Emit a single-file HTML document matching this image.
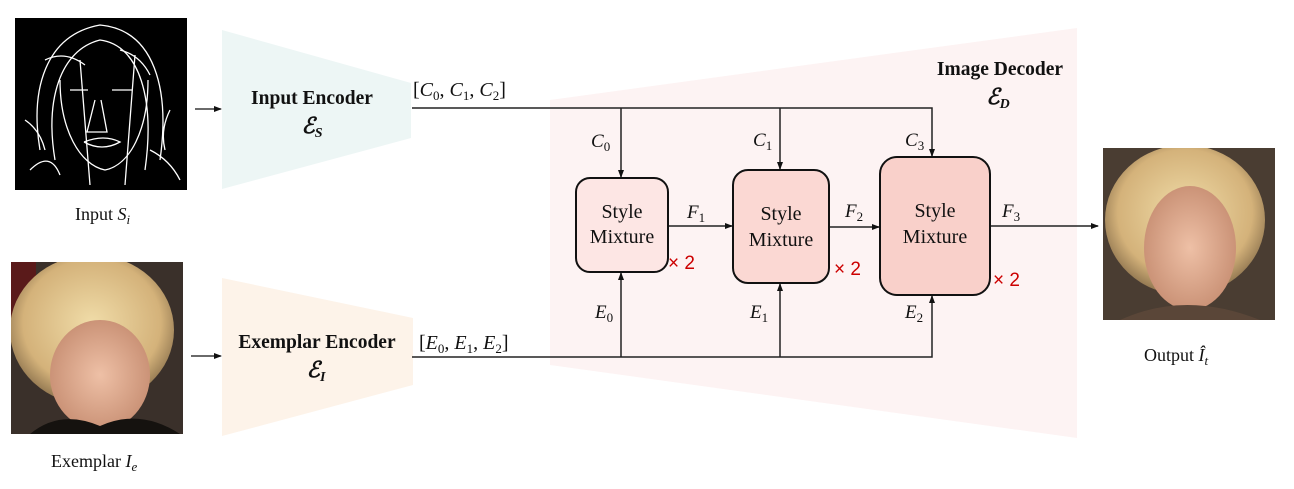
<!DOCTYPE html>
<html><head><meta charset="utf-8"><style>
html,body{margin:0;padding:0;background:#fff;width:1294px;height:489px;overflow:hidden}
text{font-family:"Liberation Serif",serif;fill:#111}
.it{font-style:italic}
</style></head><body>
<svg width="1294" height="489" viewBox="0 0 1294 489" xmlns="http://www.w3.org/2000/svg">
<defs>
<marker id="ah" markerWidth="8" markerHeight="8" refX="7" refY="4" orient="auto" markerUnits="userSpaceOnUse"><path d="M0,1 L8,4 L0,7 z" fill="#111"/></marker>
<radialGradient id="hair" cx="0.5" cy="0.45" r="0.6"><stop offset="0" stop-color="#f0dca8"/><stop offset="0.7" stop-color="#d4b27a"/><stop offset="1" stop-color="#7a6242"/></radialGradient>
<radialGradient id="skin" cx="0.5" cy="0.5" r="0.6"><stop offset="0" stop-color="#eec0a6"/><stop offset="1" stop-color="#c48a6e"/></radialGradient>
<clipPath id="c1"><rect x="11" y="262" width="172" height="172"/></clipPath>
<clipPath id="c2"><rect x="1103" y="148" width="172" height="172"/></clipPath>
</defs>
<polygon points="550,100 1077,28 1077,438 550,365" fill="#fdf3f3"/>
<polygon points="222,30 411,83 411,138 222,189" fill="#edf6f5"/>
<polygon points="222,278 413,318 413,385 222,436" fill="#fdf3e9"/>

<g>
<rect x="15" y="18" width="172" height="172" fill="#000"/>
<g fill="none" stroke="#fff" stroke-width="1.3">
<path d="M40,150 C30,90 45,35 100,25 C155,30 170,90 160,160"/>
<path d="M55,160 C45,100 60,50 100,40 C140,45 155,100 145,170"/>
<path d="M60,80 C60,130 80,165 105,170 C130,165 148,130 148,80"/>
<path d="M70,90 l18,0 M112,90 l20,0 M95,100 l-8,32 l20,0 l-6,-32 M84,142 q20,-8 36,0 q-18,10 -36,0"/>
<path d="M80,60 L90,185 M135,55 L125,185 M30,170 q20,-20 30,5 M150,150 q20,10 30,30"/>
<path d="M25,120 q15,10 20,30 M170,110 q-10,20 -5,40 M45,60 q20,-10 40,5 M120,50 q20,5 30,25"/>
</g></g>
<g clip-path="url(#c1)">
<rect x="11" y="262" width="172" height="172" fill="#3a302a"/>
<rect x="11" y="262" width="25" height="70" fill="#5a1a1a"/>
<ellipse cx="92" cy="330" rx="82" ry="75" fill="url(#hair)"/>
<ellipse cx="100" cy="375" rx="50" ry="55" fill="url(#skin)"/>
<path d="M30,434 q30,-25 70,-8 q40,-18 80,8 z" fill="#15120f"/>
</g>
<g clip-path="url(#c2)">
<rect x="1103" y="148" width="172" height="172" fill="#4a3d32"/>
<ellipse cx="1185" cy="220" rx="80" ry="75" fill="url(#hair)"/>
<ellipse cx="1190" cy="248" rx="46" ry="62" fill="url(#skin)"/>
<path d="M1120,320 q65,-30 140,0 z" fill="#5a4638"/>
</g>

<text x="75" y="220" font-size="18">Input <tspan class="it">S</tspan><tspan class="it" font-size="13" dy="4">i</tspan></text>
<text x="51" y="467" font-size="18">Exemplar <tspan class="it">I</tspan><tspan class="it" font-size="13" dy="4">e</tspan></text>
<text x="1144" y="361" font-size="18">Output <tspan class="it">Î</tspan><tspan class="it" font-size="13" dy="4">t</tspan></text>

<line x1="195" y1="109" x2="221" y2="109" stroke="#111" stroke-width="1.3" marker-end="url(#ah)"/>
<line x1="191" y1="356" x2="221" y2="356" stroke="#111" stroke-width="1.3" marker-end="url(#ah)"/>

<text x="312" y="104" font-size="19.5" font-weight="bold" text-anchor="middle">Input Encoder</text>
<text x="312" y="133" font-size="22" class="it" font-weight="bold" text-anchor="middle">ℰ<tspan font-size="14" dy="4">S</tspan></text>
<text x="317" y="348" font-size="19.5" font-weight="bold" text-anchor="middle">Exemplar Encoder</text>
<text x="316" y="377" font-size="22" class="it" font-weight="bold" text-anchor="middle">ℰ<tspan font-size="14" dy="4">I</tspan></text>
<text x="1000" y="75" font-size="19.5" font-weight="bold" text-anchor="middle">Image Decoder</text>
<text x="998" y="104" font-size="22" class="it" font-weight="bold" text-anchor="middle">ℰ<tspan font-size="14" dy="4">D</tspan></text>

<text x="413" y="96" font-size="20">[<tspan class="it">C</tspan><tspan font-size="13" dy="4">0</tspan><tspan dy="-4">, </tspan><tspan class="it">C</tspan><tspan font-size="13" dy="4">1</tspan><tspan dy="-4">, </tspan><tspan class="it">C</tspan><tspan font-size="13" dy="4">2</tspan><tspan dy="-4">]</tspan></text>
<text x="419" y="349" font-size="20">[<tspan class="it">E</tspan><tspan font-size="13" dy="4">0</tspan><tspan dy="-4">, </tspan><tspan class="it">E</tspan><tspan font-size="13" dy="4">1</tspan><tspan dy="-4">, </tspan><tspan class="it">E</tspan><tspan font-size="13" dy="4">2</tspan><tspan dy="-4">]</tspan></text>

<g stroke="#222" stroke-width="1.5" fill="none">
<polyline points="412,108 932,108 932,156" marker-end="url(#ah)"/>
<line x1="621" y1="108" x2="621" y2="177" marker-end="url(#ah)"/>
<line x1="780" y1="108" x2="780" y2="169" marker-end="url(#ah)"/>
<polyline points="412,357 932,357 932,296" marker-end="url(#ah)"/>
<line x1="621" y1="357" x2="621" y2="273" marker-end="url(#ah)"/>
<line x1="780" y1="357" x2="780" y2="284" marker-end="url(#ah)"/>
<line x1="668" y1="226" x2="732" y2="226" marker-end="url(#ah)"/>
<line x1="829" y1="227" x2="879" y2="227" marker-end="url(#ah)"/>
<line x1="990" y1="226" x2="1098" y2="226" marker-end="url(#ah)"/>
</g>

<rect x="576" y="178" width="92" height="94" rx="14" fill="#fde6e4" stroke="#111" stroke-width="2"/>
<rect x="733" y="170" width="96" height="113" rx="15" fill="#fbd8d3" stroke="#111" stroke-width="2"/>
<rect x="880" y="157" width="110" height="138" rx="17" fill="#f9d0ca" stroke="#111" stroke-width="2"/>
<g font-size="20" text-anchor="middle">
<text x="622" y="218">Style</text><text x="622" y="243">Mixture</text>
<text x="781" y="220">Style</text><text x="781" y="246">Mixture</text>
<text x="935" y="217">Style</text><text x="935" y="243">Mixture</text>
</g>
<g font-size="19">
<text x="668" y="269" style="fill:#c00;font-family:'Liberation Sans',sans-serif">× 2</text>
<text x="834" y="275" style="fill:#c00;font-family:'Liberation Sans',sans-serif">× 2</text>
<text x="993" y="286" style="fill:#c00;font-family:'Liberation Sans',sans-serif">× 2</text>
</g>
<g font-size="19">
<text x="591" y="147" class="it">C<tspan font-size="13" dy="4" font-style="normal">0</tspan></text>
<text x="753" y="146" class="it">C<tspan font-size="13" dy="4" font-style="normal">1</tspan></text>
<text x="905" y="146" class="it">C<tspan font-size="13" dy="4" font-style="normal">3</tspan></text>
<text x="595" y="318" class="it">E<tspan font-size="13" dy="4" font-style="normal">0</tspan></text>
<text x="750" y="318" class="it">E<tspan font-size="13" dy="4" font-style="normal">1</tspan></text>
<text x="905" y="318" class="it">E<tspan font-size="13" dy="4" font-style="normal">2</tspan></text>
<text x="687" y="218" class="it">F<tspan font-size="13" dy="4" font-style="normal">1</tspan></text>
<text x="845" y="217" class="it">F<tspan font-size="13" dy="4" font-style="normal">2</tspan></text>
<text x="1002" y="217" class="it">F<tspan font-size="13" dy="4" font-style="normal">3</tspan></text>
</g>
</svg>
</body></html>
